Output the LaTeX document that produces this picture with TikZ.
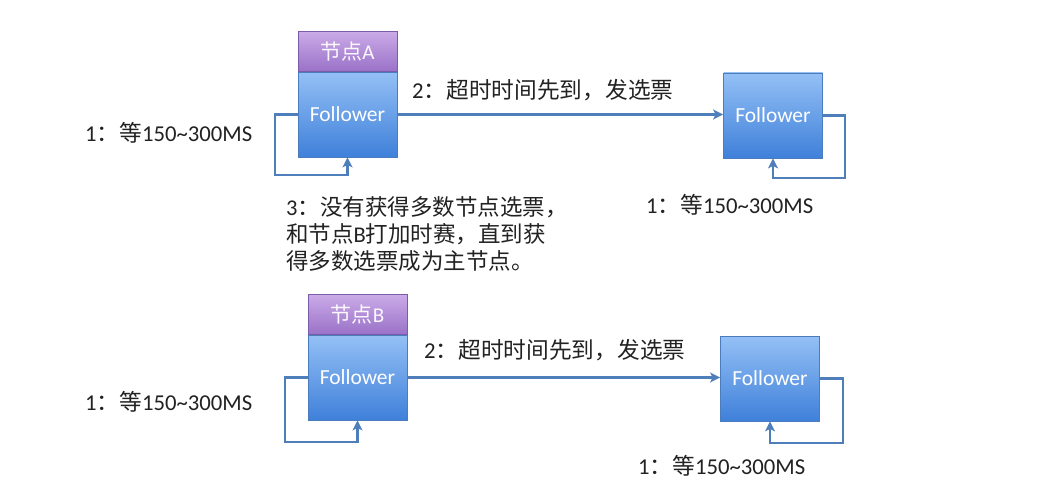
\documentclass[tikz,border=0pt]{standalone}
\usepackage{fontspec}
\setmainfont{Carlito}
\newfontfamily\cjk{Noto Sans CJK SC}
\usetikzlibrary{arrows.meta,shadings}
\definecolor{lineblue}{HTML}{4F7FBA}
\definecolor{boxtop}{HTML}{94C0F5}
\definecolor{boxbot}{HTML}{3F80DA}
\definecolor{boxedge}{HTML}{4A7CBE}
\definecolor{purtop}{HTML}{CBABE8}
\definecolor{purbot}{HTML}{9A72C8}
\definecolor{puredge}{HTML}{7B5CA8}
\definecolor{txt}{HTML}{222222}
\tikzset{
  follower/.style={draw=boxedge, line width=0.8pt, top color=boxtop, bottom color=boxbot,
    minimum width=99pt, minimum height=85pt, inner sep=0pt, text=white,
    font=\fontsize{21.5}{25}\selectfont},
  tagbox/.style={draw=puredge, line width=0.8pt, top color=purtop, bottom color=purbot,
    minimum width=99pt, minimum height=40pt, inner sep=0pt, text=white!92!purtop,
    font=\fontsize{21}{25}\selectfont},
  conn/.style={draw=lineblue, line width=2.4pt, -{Stealth[length=10pt,width=10pt,inset=2.5pt]}},
  lab/.style={text=txt, inner sep=0pt, anchor=west, font=\fontsize{22.7}{26}\selectfont},
  note/.style={text=txt, inner sep=0pt, anchor=north west, align=left,
    font=\fontsize{22.5}{26.8}\selectfont}
}
\begin{document}
\begin{tikzpicture}[x=1pt,y=-1pt]
\useasboundingbox (0,0) rectangle (1043,500);
\fill[white] (0,0) rectangle (1043,500);

% top row
\node[follower] (A) at (347.5,114.5) {Follower};
\node[tagbox, anchor=south] (tagA) at (A.north) {{\cjk 节点}A};
\node[follower] (C) at (773,115.5) {Follower};

\coordinate (a1) at (275,175);
\coordinate (c1) at (845,178);
\draw[conn] (A.east) -- (A.east -| C.west);
\draw[conn] (A.west) -| (a1) -| (A.south);
\draw[conn] (C.east) -| (c1) -| (C.south);

\node[lab] (l1) at (85,133) {1{\cjk ：等}150\textasciitilde300MS};
\node[lab] (l2) at (412,90) {2{\cjk ：超时时间先到，发选票}};
\node[lab] (l3) at (646,205) {1{\cjk ：等}150\textasciitilde300MS};
\node[note] (l4) at (286,196.5) {3{\cjk ：没有获得多数节点选票，}\\{\cjk 和节点}B{\cjk 打加时赛，直到获}\\{\cjk 得多数选票成为主节点。}};

% bottom row
\node[follower] (B) at (357.5,377.5) {Follower};
\node[tagbox, anchor=south] (tagB) at (B.north) {{\cjk 节点}B};
\node[follower] (D) at (770,378.5) {Follower};

\coordinate (b1) at (285,442);
\coordinate (d1) at (843,443);
\draw[conn] (B.east) -- (B.east -| D.west);
\draw[conn] (B.west) -| (b1) -| (B.south);
\draw[conn] (D.east) -| (d1) -| (D.south);

\node[lab] (m1) at (85,402) {1{\cjk ：等}150\textasciitilde300MS};
\node[lab] (m2) at (424,350) {2{\cjk ：超时时间先到，发选票}};
\node[lab] (m3) at (638,466) {1{\cjk ：等}150\textasciitilde300MS};
\end{tikzpicture}
\end{document}
